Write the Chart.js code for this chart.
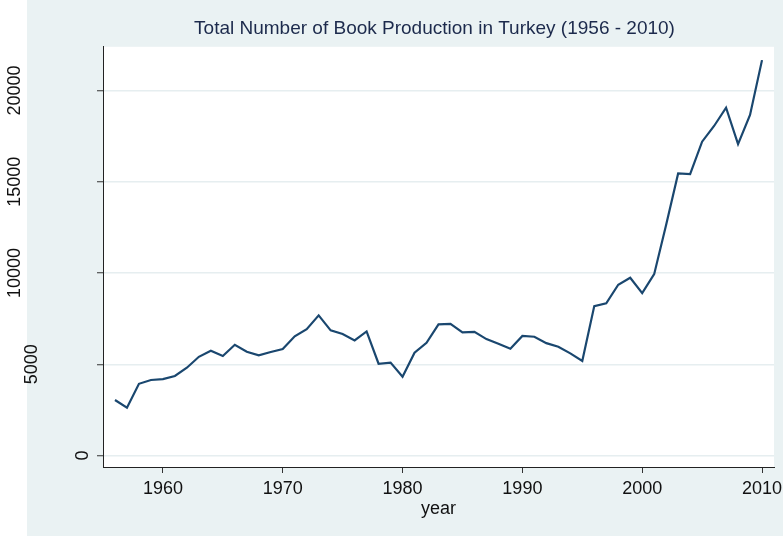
<!DOCTYPE html>
<html>
<head>
<meta charset="utf-8">
<title>Total Number of Book Production in Turkey (1956 - 2010)</title>
<script src="https://cdn.jsdelivr.net/npm/chart.js@4.4.1/dist/chart.umd.min.js"></script>
<style>
  html, body { margin: 0; padding: 0; background: #fff; }
  canvas { display: block; }
</style>
</head>
<body>
<canvas id="chart" width="783" height="536"></canvas>
<script>
// values
var years = [
    1956, 1957, 1958, 1959, 1960, 1961, 1962, 1963, 1964, 1965,
    1966, 1967, 1968, 1969, 1970, 1971, 1972, 1973, 1974, 1975,
    1976, 1977, 1978, 1979, 1980, 1981, 1982, 1983, 1984, 1985,
    1986, 1987, 1988, 1989, 1990, 1991, 1992, 1993, 1994, 1995,
    1996, 1997, 1998, 1999, 2000, 2001, 2002, 2003, 2004, 2005,
    2006, 2007, 2008, 2009, 2010
];
var books = [
    3040, 2620, 3930, 4140, 4190, 4360, 4810, 5410, 5740, 5450,
    6070, 5690, 5490, 5670, 5840, 6530, 6920, 7680, 6860, 6660,
    6310, 6800, 5030, 5090, 4320, 5630, 6180, 7190, 7210, 6750,
    6780, 6380, 6130, 5850, 6550, 6510, 6160, 5960, 5600, 5180,
    8190, 8340, 9360, 9740, 8900, 9940, 12650, 15460, 15420, 17200,
    18060, 19060, 17070, 18660, 21670
];
var xTicks = [1960, 1970, 1980, 1990, 2000, 2010];
var yTicks = [0, 5000, 10000, 15000, 20000];

var FONT = "'Liberation Sans', Arial, Helvetica, sans-serif";
var BG = "#eaf2f3";

var points = years.map(function(y, i) { return { x: y, y: books[i] }; });

// background: light graph region, white plot region, white strip on the left edge
var backgroundPlugin = {
    id: "bg",
    beforeDraw: function(chart) {
        var ctx = chart.ctx, a = chart.chartArea;
        ctx.save();
        ctx.fillStyle = "#ffffff";
        ctx.fillRect(0, 0, chart.width, chart.height);
        ctx.fillStyle = BG;
        ctx.fillRect(27, 0, chart.width - 27, chart.height);
        ctx.fillStyle = "#ffffff";
        ctx.fillRect(a.left, a.top, a.right - a.left, a.bottom - a.top);
        ctx.restore();
    }
};

// y labels are rotated to read upward, set off from the axis by their length
var yLabelPlugin = {
    id: "ylabels",
    afterDraw: function(chart) {
        var ctx = chart.ctx, scale = chart.scales.y;
        ctx.save();
        ctx.font = "18px " + FONT;
        ctx.fillStyle = "#111111";
        ctx.textAlign = "center";
        ctx.textBaseline = "alphabetic";
        var wMax = ctx.measureText(String(yTicks[yTicks.length - 1])).width;
        scale.ticks.forEach(function(t) {
            var label = String(t.value);
            var w = ctx.measureText(label).width;
            var xb = 20 + 1.7 * (wMax - w);
            var py = scale.getPixelForValue(t.value);
            ctx.save();
            ctx.translate(xb, py);
            ctx.rotate(-Math.PI / 2);
            ctx.fillText(label, 0, 0);
            ctx.restore();
        });
        ctx.restore();
    }
};

new Chart(document.getElementById("chart"), {
    type: "line",
    data: {
        datasets: [{
            label: "Books",
            data: points,
            borderColor: "#1a476f",
            borderWidth: 2.2,
            pointRadius: 0,
            tension: 0,
            fill: false
        }]
    },
    options: {
        responsive: false,
        animation: false,
        devicePixelRatio: 1,
        layout: { padding: { left: 95, right: 9, top: 0, bottom: 0 } },
        plugins: {
            legend: { display: false },
            tooltip: { enabled: false },
            title: {
                display: true,
                text: "Total Number of Book Production in Turkey (1956 - 2010)",
                color: "#1c2a4c",
                font: { family: FONT, size: 19, weight: "normal" },
                padding: { top: 17, bottom: 7 }
            }
        },
        scales: {
            x: {
                type: "linear",
                min: 1955,
                max: 2011,
                afterBuildTicks: function(s) { s.ticks = xTicks.map(function(v) { return { value: v }; }); },
                afterFit: function(s) { s.height = 69; s.paddingLeft = 0; s.paddingRight = 0; },
                ticks: {
                    color: "#111111",
                    font: { family: FONT, size: 18 },
                    padding: 5,
                    maxRotation: 0,
                    callback: function(v) { return String(v); }
                },
                grid: { drawOnChartArea: false, tickLength: 6, tickColor: "#333333", tickWidth: 1 },
                border: { color: "#222222", width: 1 },
                title: {
                    display: true,
                    text: "year",
                    color: "#111111",
                    font: { family: FONT, size: 18 },
                    padding: { top: 0, bottom: 16 }
                }
            },
            y: {
                type: "linear",
                min: -630,
                max: 22400,
                afterBuildTicks: function(s) { s.ticks = yTicks.map(function(v) { return { value: v }; }); },
                afterFit: function(s) { s.width = 8; },
                ticks: { display: false },
                grid: { color: "#e6eef0", lineWidth: 1.5, tickLength: 6, tickColor: "#333333", tickWidth: 1 },
                border: { color: "#222222", width: 1 }
            }
        }
    },
    plugins: [backgroundPlugin, yLabelPlugin]
});
</script>
</body>
</html>
